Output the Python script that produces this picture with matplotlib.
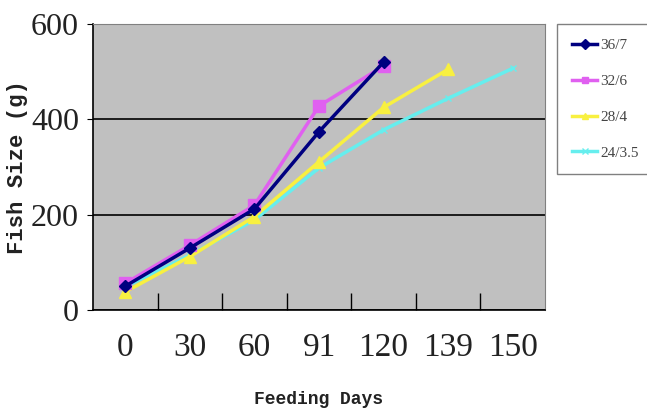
import matplotlib.pyplot as plt

# feeding trial data
days = ['0', '30', '60', '91', '120', '139', '150']
size_36_7 = [50, 130, 212, 374, 520]
size_32_6 = [56, 136, 220, 428, 512]
size_28_4 = [38, 112, 196, 311, 425, 505]
size_24_35 = [49, 115, 189, 298, 378, 444, 507]
series_names = ['36/7', '32/6', '28/4', '24/3.5']

fig = plt.figure(figsize=(6.47, 4.11), dpi=100)
ax = fig.add_axes([93 / 647, 1 - 310 / 411, 452 / 647, 286 / 411])
ax.set_facecolor('#c0c0c0')

ax.plot(days[:len(size_36_7)], size_36_7, color='#000080', lw=2.5,
        marker='D', ms=6, label=series_names[0], zorder=4)
ax.plot(days[:len(size_32_6)], size_32_6, color='#e060f0', lw=2.5,
        marker='s', ms=8, label=series_names[1], zorder=3)
ax.plot(days[:len(size_28_4)], size_28_4, color='#f8f040', lw=2.5,
        marker='^', ms=9, label=series_names[2], zorder=2)
ax.plot(days[:len(size_24_35)], size_24_35, color='#66eeee', lw=2.5,
        marker='x', ms=5, mew=1, label=series_names[3], zorder=1)

ax.set_xlim(-0.5, 6.5)
ax.set_ylim(0, 600)
ax.set_yticks([0, 200, 400, 600])
ax.yaxis.grid(True, color='black', lw=1.2)
ax.set_axisbelow(True)

# ticks between categories, pointing inward
ax.set_xticks([i + 0.5 for i in range(6)], minor=True)
ax.tick_params(axis='x', which='minor', direction='in', length=12, width=1, color='black')
ax.tick_params(axis='x', which='major', length=0, pad=16)
ax.tick_params(axis='y', length=4, direction='out', pad=6)

for lab in ax.get_xticklabels():
    lab.set_family('Liberation Serif')
    lab.set_fontsize(24)
    lab.set_color('#222222')
for lab in ax.get_yticklabels():
    lab.set_family('Liberation Serif')
    lab.set_fontsize(23)
    lab.set_color('#222222')

for side in ['top', 'right']:
    ax.spines[side].set_color('#808080')
for side in ['left', 'bottom']:
    ax.spines[side].set_color('black')
    ax.spines[side].set_linewidth(1.2)

ax.set_xlabel('Feeding Days', family='Liberation Mono', fontsize=13,
              weight='bold', color='#222222', labelpad=20)
ax.set_ylabel('Fish Size (g)', family='Liberation Mono', fontsize=16,
              weight='bold', color='#222222', labelpad=2)

leg = ax.legend(loc='upper left', bbox_to_anchor=(557 / 647, 1 - 24 / 411),
                bbox_transform=fig.transFigure, fancybox=False, framealpha=1,
                edgecolor='#808080', handlelength=1.7, handletextpad=0.2,
                labelspacing=1.45, borderaxespad=0, borderpad=0.95,
                prop={'family': 'Liberation Serif', 'size': 11})
for h in leg.get_lines():
    h.set_markersize(5)
for t in leg.get_texts():
    t.set_color('#444444')

fig.savefig('out.png', dpi=100)
